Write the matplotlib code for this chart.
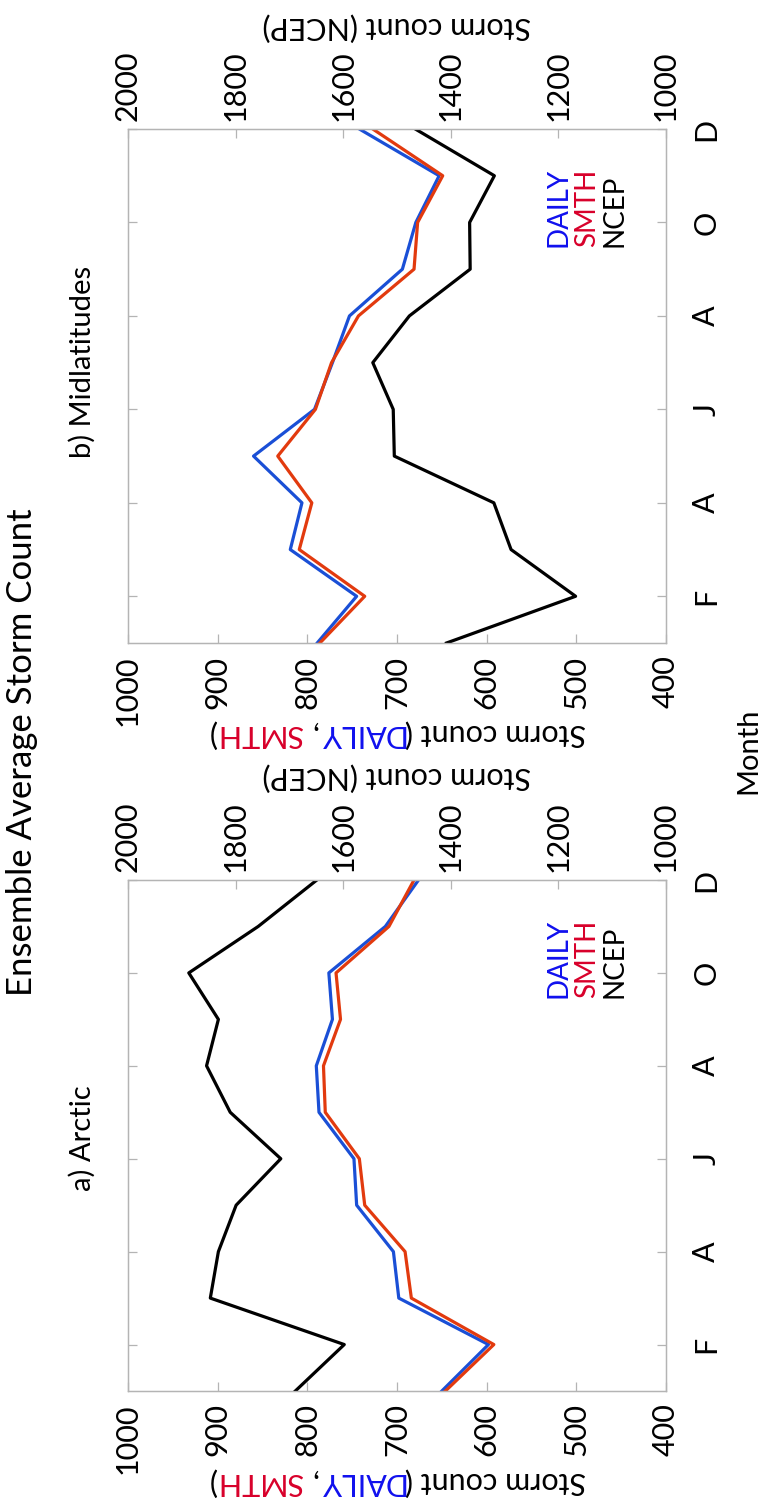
import matplotlib
matplotlib.use("Agg")
import matplotlib.pyplot as plt

# months Jan..Dec as 1..12
months = list(range(1, 13))
month_ticks = [2, 4, 6, 8, 10, 12]
month_labels = ["F", "A", "J", "A", "O", "D"]

# a) Arctic
arc_daily = [650, 598, 698, 704, 745, 748, 787, 790, 772, 776, 713, 676]
arc_smth = [646, 592, 684, 691, 736, 742, 780, 782, 763, 768, 709, 681]
arc_ncep = [1689, 1598, 1847, 1832, 1799, 1716, 1810, 1854, 1832, 1887, 1758, 1649]

# b) Midlatitudes
mid_daily = [789, 745, 819, 806, 860, 792, 772, 753, 694, 679, 653, 742]
mid_smth = [786, 736, 809, 795, 833, 791, 773, 743, 681, 677, 649, 727]
mid_ncep = [1408, 1168, 1288, 1320, 1505, 1507, 1545, 1477, 1364, 1365, 1319, 1466]

left_ticks = [1000, 900, 800, 700, 600, 500, 400]
ncep_ticks = [2000, 1800, 1600, 1400, 1200, 1000]

BLUE = "#1a4fd6"
RED = "#e23a0e"
TXT_BLUE = "#1010ee"
TXT_RED = "#d8002a"
GRAY = "#b4b4b4"

plt.rcParams["font.family"] = ["Lato", "DejaVu Sans"]
FS_TICK = 22
FS_LAB = 22

W, H = 763, 1505
fig = plt.figure(figsize=(W / 100, H / 100), dpi=100)


def fx(px):
    return px / W


def fy(py):
    return 1 - py / H


def panel(top, bottom, daily, smth, ncep):
    ax = fig.add_axes([fx(128), fy(bottom), fx(666) - fx(128), fy(top) - fy(bottom)])
    ax2 = ax.twiny()
    ax.plot(daily, months, color=BLUE, lw=2.3)
    ax.plot(smth, months, color=RED, lw=2.3)
    ax2.plot(ncep, months, color="black", lw=2.3)
    ax.set_xlim(1000, 400)
    ax2.set_xlim(2000, 1000)
    ax.set_ylim(1, 12)
    ax.set_xticks(left_ticks)
    ax.set_xticklabels([str(v) for v in left_ticks], rotation=90, fontsize=FS_TICK)
    ax2.set_xticks(ncep_ticks)
    ax2.set_xticklabels([str(v) for v in ncep_ticks], rotation=90, fontsize=FS_TICK)
    ax.set_yticks(month_ticks)
    ax.set_yticklabels(month_labels, rotation=90, fontsize=FS_TICK, va="center")
    ax.tick_params(axis="x", direction="in", length=6.5, width=0.9, color=GRAY,
                   top=False, pad=9)
    ax2.tick_params(axis="x", direction="in", length=6.5, width=0.9, color=GRAY, pad=6)
    ax.tick_params(axis="y", direction="in", length=6.5, width=0.9, color=GRAY,
                   left=True, right=True, labelleft=False, labelright=True, pad=19)
    for a in (ax, ax2):
        for s in a.spines.values():
            s.set_color(GRAY)
            s.set_linewidth(0.9)
    for xf, word, col in [(0.80, "DAILY", TXT_BLUE), (0.853, "SMTH", TXT_RED), (0.905, "NCEP", "black")]:
        ax.text(xf, 0.77, word, color=col, rotation=90, ha="center", va="bottom",
                fontsize=20, transform=ax.transAxes)
    return ax


def width(s, size):
    r = fig.canvas.get_renderer()
    t = fig.text(0, 0, s + "|", fontsize=size)
    a = t.get_window_extent(r).width
    t.remove()
    t = fig.text(0, 0, "|", fontsize=size)
    b = t.get_window_extent(r).width
    t.remove()
    return a - b


def upside_label(full, parts, xc, yc, size):
    # text turned 180 degrees, so it runs right to left
    x_right = xc + width(full, size) / 2
    start = 0
    for s, c in parts:
        i = full.find(s, start)
        off = width(full[:i] + s, size) - width(s, size) if i > 0 else 0
        fig.text(fx(x_right - off), fy(yc), s, color=c, rotation=180,
                 ha="right", va="center", fontsize=size)
        start = i + len(s)


panel(880, 1391, arc_daily, arc_smth, arc_ncep)
panel(129, 643, mid_daily, mid_smth, mid_ncep)

left_full = "Storm count (DAILY, SMTH)"
left_parts = [("Storm count (", "black"), ("DAILY", TXT_BLUE), (",", "black"),
              ("SMTH", TXT_RED), (")", "black")]
upside_label(left_full, left_parts, 397, 1482, FS_LAB)
upside_label(left_full, left_parts, 397, 734, FS_LAB)
upside_label("Storm count (NCEP)", [("Storm count (NCEP)", "black")], 397, 777, FS_LAB)
upside_label("Storm count (NCEP)", [("Storm count (NCEP)", "black")], 397, 27, FS_LAB)

fig.text(fx(22), fy(752), "Ensemble Average Storm Count", rotation=90,
         ha="center", va="center", fontsize=25)
fig.text(fx(748), fy(751), "Month", rotation=90, ha="center", va="center", fontsize=21)
fig.text(fx(82), fy(1138), "a) Arctic", rotation=90, ha="center", va="center", fontsize=21)
fig.text(fx(82), fy(362), "b) Midlatitudes", rotation=90, ha="center", va="center", fontsize=21)

fig.savefig("out.png", dpi=100)
